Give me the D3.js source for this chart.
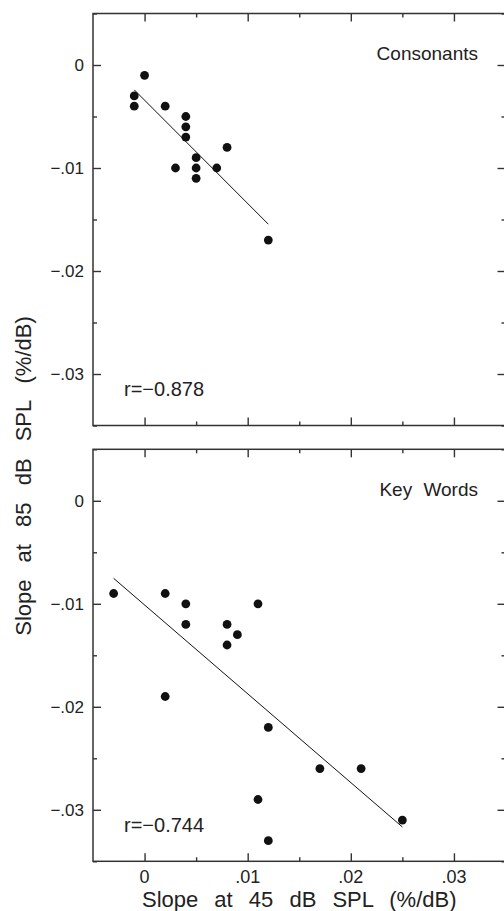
<!DOCTYPE html>
<html>
<head>
<meta charset="utf-8">
<script src="https://d3js.org/d3.v7.min.js"></script>
<style>
  body { margin: 0; background: #fff; }
  text { font-family: "Liberation Sans", "DejaVu Sans", sans-serif; fill: #222; }
</style>
</head>
<body>
<svg id="vis" width="504" height="911"></svg>
<script>
// data (slopes in proportion/dB)
var consX = [-0.001, -0.001, 0.000, 0.002, 0.004, 0.004, 0.004, 0.008, 0.005, 0.003, 0.005, 0.007, 0.005, 0.012];
var consY = [-0.003, -0.004, -0.001, -0.004, -0.005, -0.006, -0.007, -0.008, -0.009, -0.010, -0.010, -0.010, -0.011, -0.017];
var keyX = [-0.003, 0.002, 0.004, 0.004, 0.008, 0.009, 0.008, 0.011, 0.002, 0.012, 0.017, 0.021, 0.011, 0.025, 0.012];
var keyY = [-0.009, -0.009, -0.010, -0.012, -0.012, -0.013, -0.014, -0.010, -0.019, -0.022, -0.026, -0.026, -0.029, -0.031, -0.033];

var panelNames = ["Consonants", "Key Words"];
var rLabels = ["r=\u22120.878", "r=\u22120.744"];

var xMajor = [0, 0.01, 0.02, 0.03];
var xMinor = [0.005, 0.015, 0.025];
var yMajor = [0, -0.01, -0.02, -0.03];
var yMinor = [0.005, -0.005, -0.015, -0.025, -0.035];

var xLabels = ["0", ".01", ".02", ".03"];
var yLabels = ["0", "\u2212.01", "\u2212.02", "\u2212.03"];

var svg = d3.select("#vis");

var left = 93, right = 505.5;
var panelTops = [13.5, 449.3];
var ph = 412;

var x = d3.scaleLinear().domain([-0.005, 0.035]).range([left, right]);

// least squares line over the x range of the data
function fit(xs, ys) {
  var mx = d3.mean(xs), my = d3.mean(ys);
  var sxy = d3.sum(xs, function(v, i) { return (v - mx) * (ys[i] - my); });
  var sxx = d3.sum(xs, function(v) { return (v - mx) * (v - mx); });
  var b = sxy / sxx, a = my - b * mx;
  var ext = d3.extent(xs);
  return [[ext[0], a + b * ext[0]], [ext[1], a + b * ext[1]]];
}

var panels = [[consX, consY], [keyX, keyY]];

panels.forEach(function(p, k) {
  var top = panelTops[k];
  var y = d3.scaleLinear().domain([-0.035, 0.005]).range([top + ph, top]);
  var g = svg.append("g");

  // ticks, pointing inward on all four sides
  function axes(xv, yv, size) {
    g.append("g").attr("transform", "translate(0," + (top + ph) + ")")
      .call(d3.axisBottom(x).tickValues(xv).tickSize(-size).tickFormat(""));
    g.append("g").attr("transform", "translate(0," + top + ")")
      .call(d3.axisTop(x).tickValues(xv).tickSize(-size).tickFormat(""));
    g.append("g").attr("transform", "translate(" + left + ",0)")
      .call(d3.axisLeft(y).tickValues(yv).tickSize(-size).tickFormat(""));
    g.append("g").attr("transform", "translate(" + right + ",0)")
      .call(d3.axisRight(y).tickValues(yv).tickSize(-size).tickFormat(""));
  }
  axes(xMajor, yMajor, 8);
  axes(xMinor, yMinor, 4);
  g.selectAll(".domain").remove();
  g.selectAll(".tick line").attr("stroke", "#333").attr("stroke-width", 1.4);

  g.append("rect")
    .attr("x", left).attr("y", top)
    .attr("width", right - left).attr("height", ph)
    .attr("fill", "none").attr("stroke", "#333").attr("stroke-width", 1.5);

  // y tick labels
  g.selectAll(".ylab").data(yMajor).enter().append("text")
    .attr("x", left - 9)
    .attr("y", function(d) { return y(d); })
    .attr("dy", "0.36em")
    .attr("text-anchor", "end")
    .style("font-size", "17px")
    .text(function(d, i) { return yLabels[i]; });

  // regression line
  var line = fit(p[0], p[1]);
  g.append("line")
    .attr("x1", x(line[0][0])).attr("y1", y(line[0][1]))
    .attr("x2", x(line[1][0])).attr("y2", y(line[1][1]))
    .attr("stroke", "#111").attr("stroke-width", 1);

  // points
  g.selectAll("circle").data(p[0]).enter().append("circle")
    .attr("cx", function(d) { return x(d); })
    .attr("cy", function(d, i) { return y(p[1][i]); })
    .attr("r", 4.4)
    .attr("fill", "#111");

  g.append("text")
    .attr("x", 478).attr("y", top + 46.5)
    .attr("text-anchor", "end")
    .style("font-size", "19px").style("word-spacing", "6px")
    .text(panelNames[k]);

  g.append("text")
    .attr("x", 124).attr("y", top + ph - 29.5)
    .style("font-size", "20px")
    .text(rLabels[k]);

  if (k === 1) {
    g.selectAll(".xlab").data(xMajor).enter().append("text")
      .attr("x", function(d) { return x(d); })
      .attr("y", top + ph + 22)
      .attr("text-anchor", "middle")
      .style("font-size", "18px")
      .text(function(d, i) { return xLabels[i]; });
  }
});

svg.append("text")
  .attr("x", (left + right) / 2).attr("y", 907)
  .attr("text-anchor", "middle")
  .style("font-size", "22px").style("word-spacing", "10px")
  .text("Slope at 45 dB SPL (%/dB)");

svg.append("text")
  .attr("transform", "translate(31,476) rotate(-90)")
  .attr("text-anchor", "middle")
  .style("font-size", "22px").style("word-spacing", "11px")
  .text("Slope at 85 dB SPL (%/dB)");
</script>
</body>
</html>
